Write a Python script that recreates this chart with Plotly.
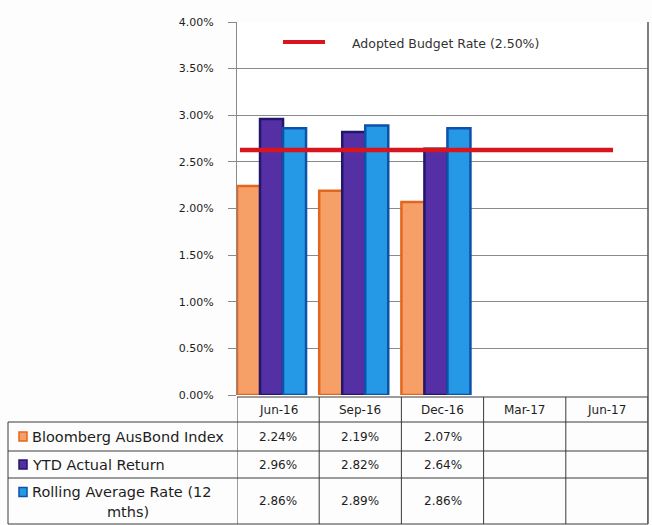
import plotly.graph_objects as go

# ---- data ----
quarters = ["Jun-16", "Sep-16", "Dec-16", "Mar-17", "Jun-17"]
bloomberg_ausbond = [2.24, 2.19, 2.07, None, None]
ytd_actual_return = [2.96, 2.82, 2.64, None, None]
rolling_average_12m = [2.86, 2.89, 2.86, None, None]
budget_rate = 2.50
budget_label = "Adopted Budget Rate (2.50%)"

series_names = ["Bloomberg AusBond Index", "YTD Actual Return", "Rolling Average Rate (12 mths)"]
series_values = [bloomberg_ausbond, ytd_actual_return, rolling_average_12m]
fills = ["#F6A068", "#5530A4", "#2699E6"]
edges = ["#E4661E", "#21176E", "#0C52A8"]
y_ticks = [0, 0.5, 1, 1.5, 2, 2.5, 3, 3.5, 4]

# ---- geometry (pixels) ----
W, H = 652, 525
PL, PR, PT, PB = 237, 648, 22, 395          # plot area edges
TBL_LEFT = 8
ROW_LINES = [422, 451, 478, 524]            # row separators of the data table
HEADER_TOP = 397
FONT = "DejaVu Sans"
TXT = "#1e1e1e"


def px_y(p):
    return (PB - p) / (PB - PT)


def px_x(p):
    return (p - PL) / (PR - PL)


fig = go.Figure()

bar_w = 0.28
for i, (name, vals) in enumerate(zip(series_names, series_values)):
    fig.add_trace(go.Bar(
        x=quarters, y=vals, name=name, showlegend=False,
        width=bar_w, offset=-0.5 + i * bar_w,
        marker=dict(color=fills[i], line=dict(color=edges[i], width=2.5)),
    ))

fig.add_trace(go.Scatter(
    x=quarters, y=[budget_rate] * len(quarters),
    name=budget_label, mode="lines",
    line=dict(color="#D8141C", width=4.5),
    xaxis="x2", yaxis="y2", showlegend=False,
))

shapes = []
annotations = []
line_style = dict(color="#3a3a3a", width=1)

# legend key for the budget line
shapes.append(dict(type="line", xref="paper", yref="paper",
                   x0=px_x(283), x1=px_x(325), y0=px_y(42), y1=px_y(42),
                   line=dict(color="#D8141C", width=4)))
annotations.append(dict(x=px_x(350), y=px_y(43), xref="paper", yref="paper", text=budget_label,
                        xanchor="left", yanchor="middle", showarrow=False,
                        font=dict(family=FONT, size=12.5, color="#333")))

# header row of the table (category columns only)
shapes.append(dict(type="line", xref="paper", yref="paper",
                   x0=0, x1=1, y0=px_y(HEADER_TOP), y1=px_y(HEADER_TOP), line=line_style))
# horizontal row separators across the whole table
for r in ROW_LINES:
    shapes.append(dict(type="line", xref="paper", yref="paper",
                       x0=px_x(TBL_LEFT), x1=1, y0=px_y(r), y1=px_y(r), line=line_style))
# vertical separators between category columns
for k in range(len(quarters) + 1):
    shapes.append(dict(type="line", xref="x", yref="paper",
                       x0=k - 0.5, x1=k - 0.5, y0=px_y(HEADER_TOP), y1=px_y(ROW_LINES[-1]),
                       line=line_style))
# outer left edge of the label column
shapes.append(dict(type="line", xref="paper", yref="paper",
                   x0=px_x(TBL_LEFT), x1=px_x(TBL_LEFT), y0=px_y(ROW_LINES[0]), y1=px_y(ROW_LINES[-1]),
                   line=line_style))
# right border of the chart area
shapes.append(dict(type="line", xref="paper", yref="paper",
                   x0=1, x1=1, y0=1, y1=px_y(ROW_LINES[-1]), line=dict(color="#555", width=1.5)))

# column headers
for q in quarters:
    annotations.append(dict(x=q, y=px_y((HEADER_TOP + ROW_LINES[0]) / 2 + 1), xref="x", yref="paper",
                            text=q, showarrow=False, xanchor="center", yanchor="middle",
                            font=dict(family=FONT, size=12, color=TXT)))

row_tops = [ROW_LINES[0], ROW_LINES[1], ROW_LINES[2]]
row_bots = [ROW_LINES[1], ROW_LINES[2], ROW_LINES[3]]
for i, (name, vals) in enumerate(zip(series_names, series_values)):
    yc = (row_tops[i] + row_bots[i]) / 2
    # values
    for q, v in zip(quarters, vals):
        if v is None:
            continue
        annotations.append(dict(x=q, y=px_y(yc), xref="x", yref="paper", text=f"{v:.2f}%",
                                showarrow=False, xanchor="center", yanchor="middle",
                                font=dict(family=FONT, size=12, color=TXT)))
    # legend key square
    key_y = yc if i < 2 else row_tops[i] + 14
    shapes.append(dict(type="rect", xref="paper", yref="paper",
                       x0=px_x(19), x1=px_x(27), y0=px_y(key_y - 4.5), y1=px_y(key_y + 4.5),
                       fillcolor=fills[i], line=dict(color=edges[i], width=1.5)))
    # row label
    if i < 2:
        annotations.append(dict(x=px_x(30), y=px_y(yc), xref="paper", yref="paper", text=name,
                                xanchor="left", yanchor="middle", showarrow=False,
                                font=dict(family=FONT, size=14.5, color=TXT)))
    else:
        first, second = "Rolling Average Rate (12", "mths)"
        annotations.append(dict(x=px_x(30), y=px_y(row_tops[i] + 14), xref="paper", yref="paper",
                                text=first, xanchor="left", yanchor="middle", showarrow=False,
                                font=dict(family=FONT, size=14.5, color=TXT)))
        annotations.append(dict(x=px_x(128), y=px_y(row_tops[i] + 34), xref="paper", yref="paper",
                                text=second, xanchor="center", yanchor="middle", showarrow=False,
                                font=dict(family=FONT, size=14.5, color=TXT)))

fig.update_layout(
    width=W, height=H,
    margin=dict(l=PL, r=W - PR, t=PT, b=H - PB, pad=0),
    paper_bgcolor="#fdfdfd", plot_bgcolor="#ffffff",
    barmode="overlay", showlegend=False,
    font=dict(family=FONT, color=TXT),
    xaxis=dict(type="category", categoryorder="array", categoryarray=quarters,
               range=[-0.5, len(quarters) - 0.5], showticklabels=False,
               showgrid=False, zeroline=False, showline=False),
    xaxis2=dict(type="category", categoryorder="array", categoryarray=quarters,
                overlaying="x", range=[-0.032, 4.375], visible=False),
    yaxis=dict(range=[0, 4], tickvals=y_ticks, ticktext=[f"{t:.2f}%" for t in y_ticks],
               tickfont=dict(family=FONT, size=11, color=TXT),
               showgrid=True, gridcolor="#8a8a8a", gridwidth=1,
               ticks="outside", ticklen=8, tickcolor="#8a8a8a", ticklabelstandoff=12,
               showline=True, linecolor="#8a8a8a", zeroline=False),
    yaxis2=dict(overlaying="y", range=[0, 3.806], visible=False),
    shapes=shapes, annotations=annotations,
)

fig.write_html("out.html")
